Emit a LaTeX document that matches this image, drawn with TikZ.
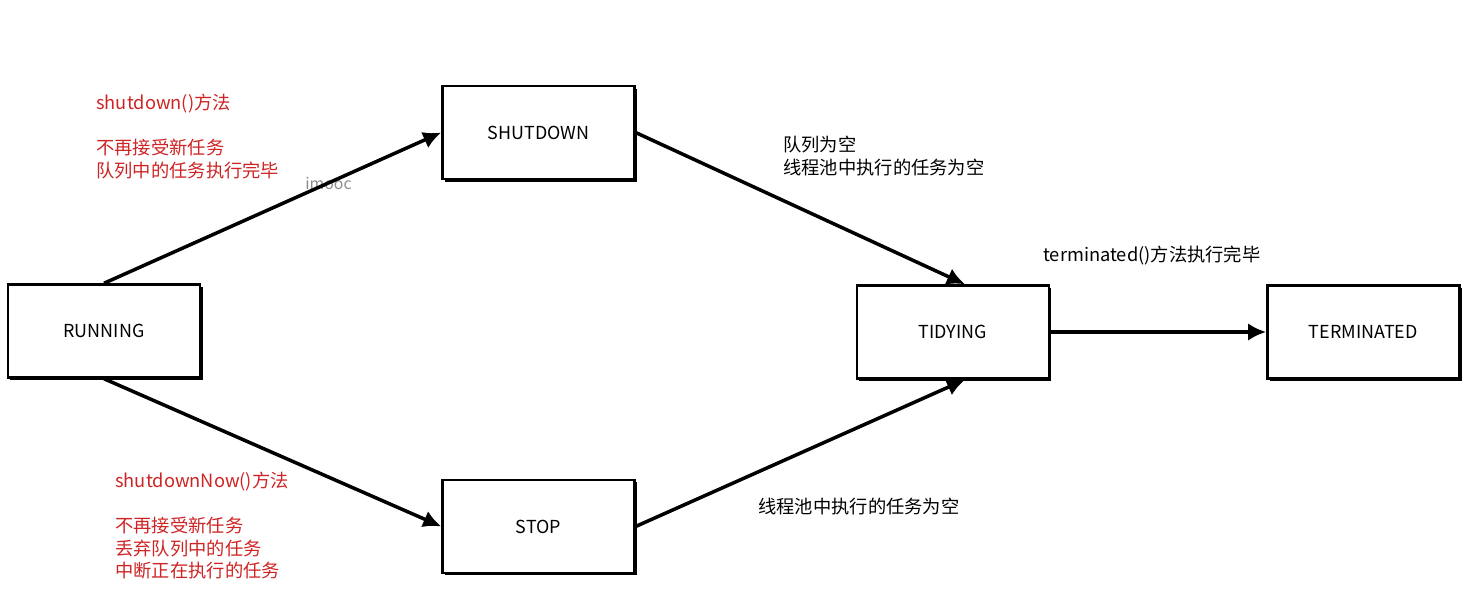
\documentclass[tikz,border=0pt]{standalone}
\usepackage{fontspec}
\setmainfont{Noto Sans CJK SC}
\usetikzlibrary{arrows.meta, positioning, shadows}
\definecolor{notered}{RGB}{206,36,36}
\tikzset{%
  >={Latex[width=3.5mm,length=3.6mm]},
  % Specifications for style of nodes:
        state/.style = {rectangle, draw=black, line width=1.4pt, fill=white,
                           minimum width=3.84cm, minimum height=1.86cm,
                           text centered, font=\fontsize{10.2}{12}\selectfont,
                           drop shadow={shadow xshift=.5mm, shadow yshift=-.5mm,
                           fill=black, opacity=1}},
        note/.style = {anchor=north west, inner sep=0pt, align=left,
                           font=\fontsize{10.4}{12.8}\selectfont},
        rednote/.style = {note, text=notered},
        line/.style = {draw, line width=2pt, ->}
}

\begin{document}
\begin{tikzpicture}
  \useasboundingbox (-2.08,-5.26) rectangle (27.42,6.62);
  % Specification of nodes (position, etc.)
    \node (running)    [state] {RUNNING};
    \node (shutdown)   [state, above right=2.06cm and 4.8cm of running] {SHUTDOWN};
    \node (stop)       [state, below right=2.0cm and 4.8cm of running] {STOP};
    \node (tidying)    [state, below right=2.08cm and 4.4cm of shutdown] {TIDYING};
    \node (terminated) [state, right=4.32cm of tidying] {TERMINATED};

  % notes beside the lines
    \node (shutdownNote)    [rednote] at (-0.16,4.74)
        {shutdown()方法\\[\baselineskip]不再接受新任务\\队列中的任务执行完毕};
    \node (shutdownNowNote) [rednote] at (0.22,-2.82)
        {shutdownNow()方法\\[\baselineskip]不再接受新任务\\丢弃队列中的任务\\中断正在执行的任务};
    \node (emptyNote)       [note] at (13.58,3.9)
        {队列为空\\线程池中执行的任务为空};
    \node (poolNote)        [note] at (13.08,-3.34) {线程池中执行的任务为空};
    \node (terminatedNote)  [note] at (18.78,1.7) {terminated()方法执行完毕};
    \node (mark) [anchor=west, inner sep=0pt, text=black!45,
        font=\fontsize{9}{10}\selectfont] at (4.02,2.96) {imooc};

  % Specification of lines between nodes specified above
  \draw[line]  (running.north) -- (shutdown.west);
  \draw[line]  (running.south) -- (stop.west);
  \draw[line]  (shutdown.east) -- ([xshift=2.4mm]tidying.north);
  \draw[line]  (stop.east) -- ([xshift=2.4mm]tidying.south);
  \draw[line]  (tidying) -- (terminated);
  \end{tikzpicture}
\end{document}
